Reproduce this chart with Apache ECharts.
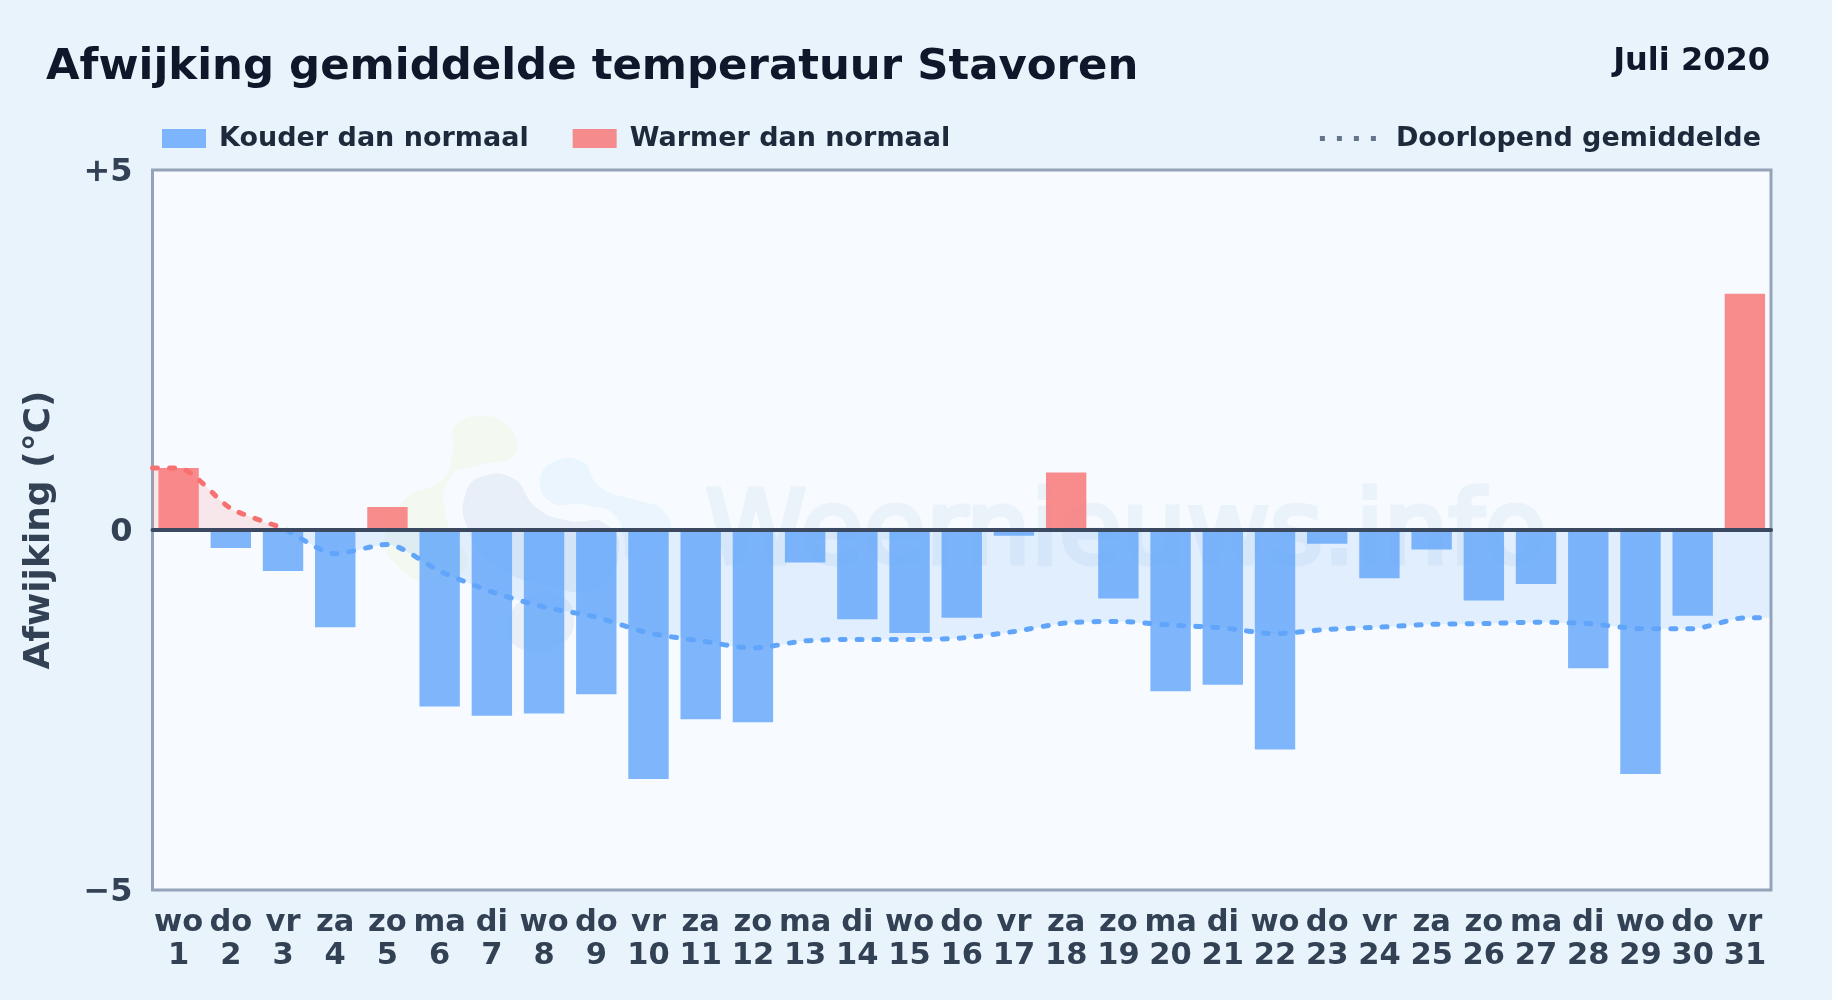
<!DOCTYPE html>
<html>
<head>
<meta charset="utf-8">
<title>Afwijking gemiddelde temperatuur Stavoren</title>
<script src="https://cdn.jsdelivr.net/npm/echarts@6/dist/echarts.min.js"></script>
<style>
html,body{margin:0;padding:0;background:#e8f3fc;}
#c{width:1832px;height:1000px;}
</style>
</head>
<body>
<div id="c"></div>
<script>
const weekdays = ['wo','do','vr','za','zo','ma','di','wo','do','vr','za','zo','ma','di','wo','do','vr','za','zo','ma','di','wo','do','vr','za','zo','ma','di','wo','do','vr'];
const dayNumbers = [1,2,3,4,5,6,7,8,9,10,11,12,13,14,15,16,17,18,19,20,21,22,23,24,25,26,27,28,29,30,31];
const colder = [null,-0.25,-0.57,-1.35,null,-2.45,-2.58,-2.55,-2.28,-3.46,-2.63,-2.67,-0.45,-1.24,-1.43,-1.22,-0.08,null,-0.95,-2.24,-2.15,-3.05,-0.19,-0.67,-0.27,-0.98,-0.75,-1.92,-3.39,-1.19,null];
const warmer = [0.86,null,null,null,0.32,null,null,null,null,null,null,null,null,null,null,null,null,0.80,null,null,null,null,null,null,null,null,null,null,null,null,3.28];
const runningX = [0.5,1,2,3,4,5,6,7,8,9,10,11,12,13,14,15,16,17,18,19,20,21,22,23,24,25,26,27,28,29,30,31,31.5];
const runningMean = [0.86,0.86,0.30,0.02,-0.33,-0.20,-0.57,-0.86,-1.07,-1.21,-1.43,-1.54,-1.64,-1.54,-1.52,-1.52,-1.50,-1.41,-1.29,-1.27,-1.32,-1.36,-1.44,-1.38,-1.35,-1.31,-1.30,-1.28,-1.30,-1.37,-1.37,-1.22,-1.22];
const yTicks = {'5':'+5','0':'0','-5':'\u22125'};

const FONT = 'DejaVu Sans';
const BLUE = '#60a5fa', RED = '#f87171';
const chart = echarts.init(document.getElementById('c'), null, {renderer:'canvas'});
const blob = (points, fill) => ({type:'polygon',z:1,silent:true,
  shape:{points,smooth:0.5},style:{fill,stroke:'#f7fbff',lineWidth:6}});
chart.setOption({
  animation:false,
  backgroundColor:'#e8f3fc',
  textStyle:{fontFamily:FONT},
  title:[
    {text:'Afwijking gemiddelde temperatuur Stavoren',left:41,top:41,
     textStyle:{fontFamily:FONT,fontSize:43.4,fontWeight:'bold',color:'#0f172a'}},
    {text:'Juli 2020',right:57,top:41,
     textStyle:{fontFamily:FONT,fontSize:32,fontWeight:'bold',color:'#0f172a'}}
  ],
  legend:[
    {left:157,top:120,itemWidth:44,itemHeight:19,itemGap:44,icon:'rect',
     textStyle:{fontFamily:FONT,fontSize:27,fontWeight:'bold',color:'#1e293b',padding:[0,0,0,8]},
     selectedMode:false,data:['Kouder dan normaal','Warmer dan normaal']},
    {right:66,top:120,itemWidth:56,itemHeight:5,
     textStyle:{fontFamily:FONT,fontSize:27,fontWeight:'bold',color:'#1e293b',padding:[0,0,0,15]},
     selectedMode:false,
     data:[{name:'Doorlopend gemiddelde',
            icon:'path://M0 0h5v5H0z M17 0h5v5h-5z M34 0h5v5h-5z M51 0h5v5h-5z',
            itemStyle:{color:'#64748b'}}]}
  ],
  grid:{left:152.5,right:61,top:170,bottom:110,show:true,backgroundColor:'#f7fbff',borderColor:'#94a3b8',borderWidth:3},
  xAxis:[
    {type:'category',data:weekdays.map((w,i)=>w+'\n'+dayNumbers[i]),position:'bottom',
     axisLine:{show:false,onZero:false},axisTick:{show:false},
     axisLabel:{interval:0,margin:17,fontFamily:FONT,fontSize:30.5,fontWeight:'bold',color:'#334155',lineHeight:33}},
    {type:'value',min:0.5,max:31.5,show:true,
     axisLine:{show:true,onZero:true,lineStyle:{color:'#3b4a60',width:4}},
     axisTick:{show:false},axisLabel:{show:false},splitLine:{show:false},z:6}
  ],
  yAxis:{type:'value',min:-5,max:5,interval:5,
    name:'Afwijking (\u00b0C)',nameLocation:'middle',nameGap:95,
    nameTextStyle:{fontFamily:FONT,fontSize:36,fontWeight:'bold',color:'#334155'},
    axisLine:{show:false},axisTick:{show:false},splitLine:{show:false},
    axisLabel:{margin:20,verticalAlign:'top',lineHeight:32,padding:[-13,0,0,0],fontFamily:FONT,fontSize:32,fontWeight:'bold',color:'#334155',
      formatter:v=>yTicks[String(v)]}},
  visualMap:{show:false,seriesIndex:2,dimension:1,
    pieces:[{gt:0,lte:10,color:RED},{gte:-10,lte:0,color:BLUE}]},
  graphic:[
    blob([[382,535],[405,495],[440,478],[450,450],[452,425],[485,413],[515,430],[516,458],[480,468],[452,480],[450,520],[470,565],[430,585],[392,565]],'#f3f8f1'),
    blob([[537,480],[555,458],[585,460],[602,485],[640,498],[665,508],[672,535],[640,560],[622,556],[615,520],[585,508],[550,505]],'#ebf5fd'),
    blob([[462,495],[480,474],[515,476],[538,505],[570,518],[605,520],[622,550],[600,590],[550,590],[490,565],[465,530]],'#e8eff8'),
    blob([[505,625],[525,595],[560,592],[577,620],[560,648],[520,652]],'#e8eff8'),
    {type:'text',z:1,silent:true,left:703,top:483,style:{text:'Weernieuws.info',font:'102px "DejaVu Sans"',fill:'#eaf2fa',stroke:'#eaf2fa',lineWidth:5}}
  ],
  series:[
    {name:'Kouder dan normaal',type:'bar',stack:'d',xAxisIndex:0,data:colder,barWidth:40.4,
     itemStyle:{color:'rgba(96,165,250,0.8)'},z:3},
    {name:'Warmer dan normaal',type:'bar',stack:'d',xAxisIndex:0,data:warmer,barWidth:40.4,
     itemStyle:{color:'rgba(248,113,113,0.8)'},z:3},
    {name:'Doorlopend gemiddelde',type:'line',xAxisIndex:1,smooth:0.25,showSymbol:false,z:4,
     data:runningX.map((x,i)=>[x,runningMean[i]]),
     lineStyle:{width:5,type:[5,12],cap:'round'},
     areaStyle:{opacity:0.15}}
  ]
});
</script>
</body>
</html>
